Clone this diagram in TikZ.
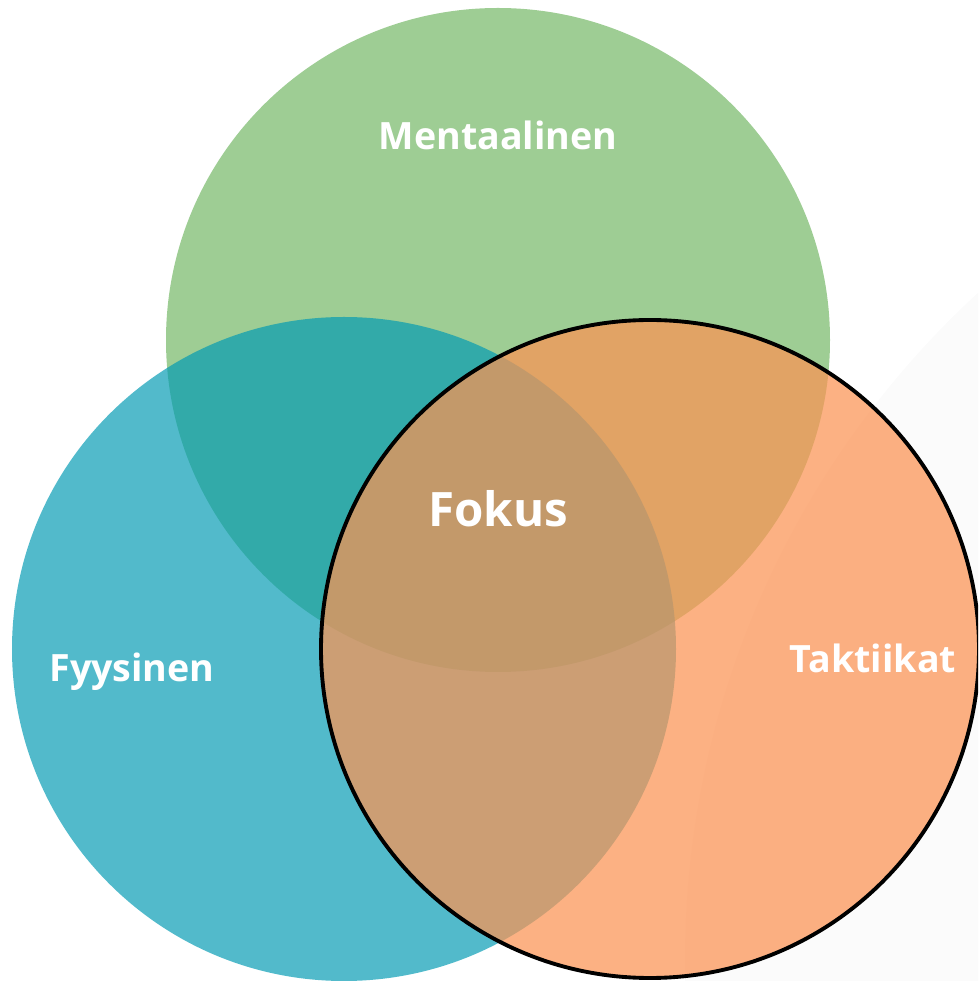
\documentclass[tikz,border=0pt]{standalone}
\usepackage{fontspec}
\setmainfont{Open Sans}
\usepackage{tikz}

\definecolor{mentgreen}{RGB}{158,205,148}
\definecolor{fyysblue}{RGB}{0,154,179}
\definecolor{taktorange}{RGB}{251,147,83}
\definecolor{shadegray}{RGB}{251,251,251}

\begin{document}
\begin{tikzpicture}[
        label text/.style={text=white, font=\bfseries\fontsize{10.7}{12}\selectfont, inner sep=0pt, anchor=base},
        big text/.style={label text, font=\bfseries\fontsize{13.5}{15}\selectfont}]
        \useasboundingbox (0,0) rectangle (9.78,9.81);
        \clip (0,0) rectangle (9.78,9.81);

        % Centres of the three sets
        \coordinate (ment) at (4.98,6.41);
        \coordinate (fyys) at (3.44,3.32);
        \coordinate (takt) at (6.50,3.32);

        % Faint shape behind the right circle
        \fill[shadegray] (15.91,0.21) circle (9.06);

        % Circles, drawn in order with transparency
        \fill[mentgreen] (ment) circle (3.32);
        \fill[fyysblue, fill opacity=0.68] (fyys) circle (3.32);
        \fill[taktorange, fill opacity=0.72] (takt) circle (3.29);
        \draw[line width=1.1pt] (takt) circle (3.29);

        % Labels
        \node[label text] (mentlabel) at (4.98,8.31) {Mentaalinen};
        \node[label text] (fyyslabel) at (1.32,2.99) {Fyysinen};
        \node[label text] (taktlabel) at (8.73,3.08) {Taktiikat};
        \node[big text] (fokus) at (4.98,4.54) {Fokus};
\end{tikzpicture}
\end{document}
